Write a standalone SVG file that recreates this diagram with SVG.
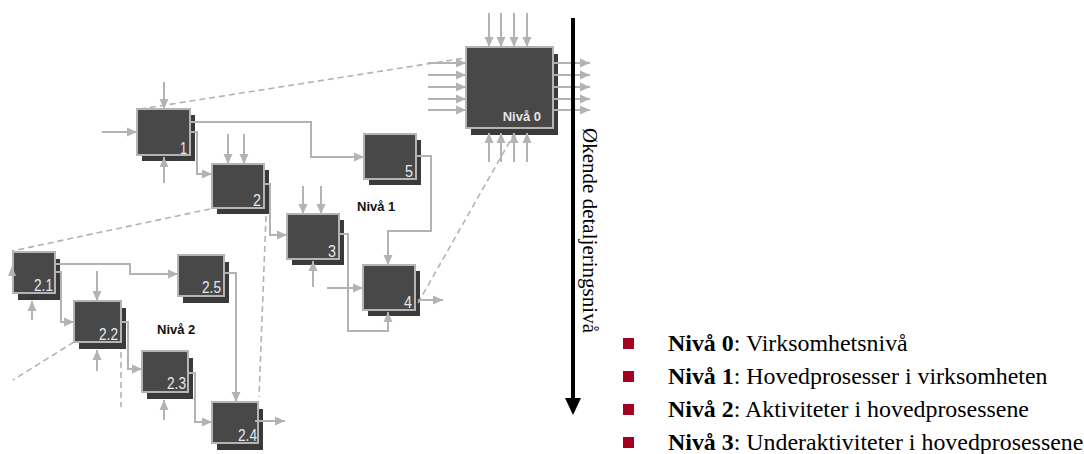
<svg xmlns="http://www.w3.org/2000/svg" width="1084" height="454" viewBox="0 0 1084 454">
<defs>
<style>
.sh{fill:#3a3a3a}
.bx{fill:#484848;stroke:#b4b4b4;stroke-width:2}
.num{font-family:"Liberation Sans",Arial,sans-serif;font-size:17px;fill:#e4e9ef;text-anchor:end}
.lvl{font-family:"Liberation Sans",Arial,sans-serif;font-size:13px;font-weight:bold;fill:#111}
.c{fill:none;stroke:#b3b3b3;stroke-width:2}
.a{fill:none;stroke:#b3b3b3;stroke-width:2;marker-end:url(#ah)}
.d{fill:none;stroke:#b3b3b3;stroke-width:1.6;stroke-dasharray:6 4}
.lg{font-family:"Liberation Serif","Times New Roman",serif;font-size:23.9px;fill:#000}
.bul{fill:#a50021}
</style>
<marker id="ah" markerUnits="userSpaceOnUse" markerWidth="11" markerHeight="10" refX="10" refY="5" orient="auto">
<path d="M0,0.5 L10,5 L0,9.5 z" fill="#b3b3b3"/>
</marker>
</defs>
<rect width="1084" height="454" fill="#ffffff"/>

<g id="niva0">
<rect class="sh" x="471" y="54" width="87" height="81"/>
<rect class="bx" x="466" y="47" width="87" height="81"/>
<text x="541" y="121" font-family="Liberation Sans,Arial,sans-serif" font-size="13" font-weight="bold" fill="#e6e6e6" text-anchor="end">Nivå 0</text>
</g>

<g id="p1">
<rect class="sh" x="142" y="115" width="53" height="46"/>
<rect class="bx" x="137" y="109" width="53" height="46"/>
<text class="num" x="187" y="154" textLength="7" lengthAdjust="spacingAndGlyphs">1</text>
</g>
<g id="p2">
<rect class="sh" x="217" y="170" width="52" height="44"/>
<rect class="bx" x="212" y="164" width="52" height="44"/>
<text class="num" x="261" y="206" textLength="8" lengthAdjust="spacingAndGlyphs">2</text>
</g>
<g id="p3">
<rect class="sh" x="292" y="220" width="52" height="45"/>
<rect class="bx" x="287" y="214" width="52" height="45"/>
<text class="num" x="336" y="257" textLength="8" lengthAdjust="spacingAndGlyphs">3</text>
</g>
<g id="p4">
<rect class="sh" x="368" y="271" width="52" height="45"/>
<rect class="bx" x="363" y="265" width="52" height="45"/>
<text class="num" x="412" y="308" textLength="8" lengthAdjust="spacingAndGlyphs">4</text>
</g>
<g id="p5">
<rect class="sh" x="369" y="140" width="52" height="45"/>
<rect class="bx" x="364" y="134" width="52" height="45"/>
<text class="num" x="413" y="177" textLength="8" lengthAdjust="spacingAndGlyphs">5</text>
</g>

<g id="p21">
<rect class="sh" x="18" y="259" width="42" height="41"/>
<rect class="bx" x="13" y="252" width="42" height="41"/>
<text class="num" x="53" y="291" textLength="19" lengthAdjust="spacingAndGlyphs">2.1</text>
</g>
<g id="p25">
<rect class="sh" x="183" y="262" width="46" height="41"/>
<rect class="bx" x="178" y="255" width="46" height="41"/>
<text class="num" x="221" y="293" textLength="19" lengthAdjust="spacingAndGlyphs">2.5</text>
</g>
<g id="p22">
<rect class="sh" x="79" y="308" width="47" height="41"/>
<rect class="bx" x="74" y="301" width="47" height="41"/>
<text class="num" x="118" y="340" textLength="19" lengthAdjust="spacingAndGlyphs">2.2</text>
</g>
<g id="p23">
<rect class="sh" x="147" y="358" width="46" height="41"/>
<rect class="bx" x="142" y="351" width="46" height="41"/>
<text class="num" x="186" y="389" textLength="19" lengthAdjust="spacingAndGlyphs">2.3</text>
</g>
<g id="p24">
<rect class="sh" x="217" y="409" width="46" height="41"/>
<rect class="bx" x="212" y="402" width="46" height="41"/>
<text class="num" x="257" y="441" textLength="19" lengthAdjust="spacingAndGlyphs">2.4</text>
</g>

<g id="connectors">
<path class="a" d="M489,13 V47"/><path class="a" d="M501,13 V47"/><path class="a" d="M514,13 V47"/><path class="a" d="M527,13 V47"/>
<path class="a" d="M428,63 H466"/><path class="a" d="M428,75 H466"/><path class="a" d="M428,87 H466"/><path class="a" d="M428,99 H466"/><path class="a" d="M428,110 H466"/>
<path class="a" d="M553,63 H590"/><path class="a" d="M553,75 H590"/><path class="a" d="M553,87 H590"/><path class="a" d="M553,99 H590"/><path class="a" d="M553,110 H590"/>
<path class="a" d="M489,162 V133"/><path class="a" d="M501,162 V133"/><path class="a" d="M514,162 V133"/><path class="a" d="M527,162 V133"/>
<path class="d" d="M140,109 L465,58"/>
<path class="d" d="M418,303 L514,134"/>
<path class="d" d="M210,209 L12,251"/>
<path class="d" d="M266,216 L259,397"/>
<path class="d" d="M74,342 L13,380"/>
<path class="d" d="M121,352 V407"/>
<path class="a" d="M164,82 V109"/>
<path class="a" d="M102,132 H137"/>
<path class="a" d="M164,183 V157"/>
<path class="a" d="M190,122 H311 V157 H364"/>
<path class="a" d="M190,132 H197 V174 H212"/>
<path class="a" d="M228,134 V164"/><path class="a" d="M244,134 V164"/>
<path class="a" d="M264,184 H270 V235 H287"/>
<path class="a" d="M303,186 V214"/><path class="a" d="M321,186 V214"/>
<path class="a" d="M313,287 V261"/>
<path class="a" d="M339,234 H348 V331 H388 V312"/>
<path class="a" d="M416,156 H431 V231 H388 V265"/>
<path class="a" d="M327,288 H363"/>
<path class="a" d="M418,300 H443"/>
<polygon points="8,276 16,276 12,266" fill="#b3b3b3"/>
<path class="a" d="M32,320 V301"/>
<path class="a" d="M55,264 H130 V274 H178"/>
<path class="a" d="M55,272 H61 V322 H74"/>
<path class="a" d="M97,271 V301"/>
<path class="a" d="M97,371 V350"/>
<path class="a" d="M121,322 H128 V369 H142"/>
<path class="a" d="M164,420 V400"/>
<path class="a" d="M188,373 H195 V422 H212"/>
<path class="a" d="M224,273 H236 V402"/>
<path class="a" d="M255,421 H285"/>
</g>

<g id="labels">
<text class="lvl" x="357" y="211">Nivå 1</text>
<text class="lvl" x="157" y="334">Nivå 2</text>
</g>

<g id="axis">
<line x1="573" y1="18" x2="573" y2="399" stroke="#000" stroke-width="4"/>
<polygon points="565,398 581,398 573,415" fill="#000"/>
<text transform="translate(583,128) rotate(90)" font-family="Liberation Serif,Times New Roman,serif" font-size="21" fill="#000" textLength="205" lengthAdjust="spacingAndGlyphs">Økende detaljeringsnivå</text>
</g>

<g id="legend">
<rect class="bul" x="623" y="338" width="11" height="11"/>
<rect class="bul" x="623" y="371" width="11" height="11"/>
<rect class="bul" x="623" y="404" width="11" height="11"/>
<rect class="bul" x="623" y="437" width="11" height="11"/>
<text class="lg" x="668" y="351"><tspan font-weight="bold">Nivå 0</tspan>: Virksomhetsnivå</text>
<text class="lg" x="668" y="384"><tspan font-weight="bold">Nivå 1</tspan>: Hovedprosesser i virksomheten</text>
<text class="lg" x="668" y="417"><tspan font-weight="bold">Nivå 2</tspan>: Aktiviteter i hovedprosessene</text>
<text class="lg" x="668" y="450"><tspan font-weight="bold">Nivå 3</tspan>: Underaktiviteter i hovedprosessene</text>
</g>
</svg>
